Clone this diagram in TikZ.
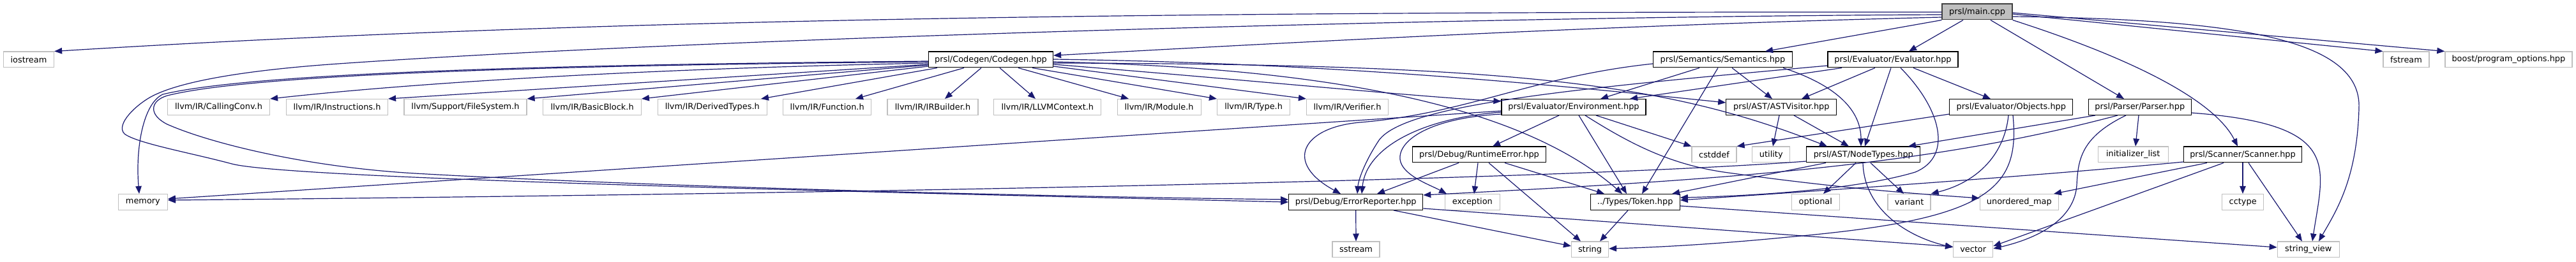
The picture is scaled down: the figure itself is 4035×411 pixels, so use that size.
\documentclass[tikz,border=0pt]{standalone}
\usepackage{fontspec}
\setmainfont{DejaVu Sans}
\usetikzlibrary{arrows.meta}
\definecolor{edgeblue}{HTML}{191970}
\definecolor{extgray}{HTML}{BFBFBF}
\definecolor{mainfill}{HTML}{BFBFBF}
\definecolor{mainline}{HTML}{404040}
\begin{document}
\begin{tikzpicture}[x=1pt,y=-1pt,
  basebox/.style={line width=1.2pt, fill=white, minimum height=24.8pt, inner sep=0pt,
                  font=\fontsize{12.9pt}{15pt}\selectfont, anchor=center},
  projbox/.style={basebox, draw=black},
  extbox/.style={basebox, draw=extgray},
  mainbox/.style={basebox, draw=mainline, fill=mainfill},
  e/.style={draw=edgeblue, line width=1.2pt, -{Triangle[length=12pt,width=9.5pt]}}
]
\fill[white] (0,0) rectangle (4035,411);
\useasboundingbox (0,0) rectangle (4035,411);

% ---------- row 0
\node[mainbox, minimum width=110pt] (main) at (3097,18.5) {prsl/main.cpp};
% ---------- row 1
\node[extbox, minimum width=79pt] (iostream) at (45,93.5) {iostream};
\node[projbox, minimum width=195pt] (codegen) at (1552,93.5) {prsl/Codegen/Codegen.hpp};
\node[projbox, minimum width=218pt] (semantics) at (2698.5,93.5) {prsl/Semantics/Semantics.hpp};
\node[projbox, minimum width=204pt] (evaluator) at (2965,93.5) {prsl/Evaluator/Evaluator.hpp};
\node[extbox, minimum width=72pt] (fstream) at (3769,93.5) {fstream};
\node[extbox, minimum width=199pt] (boost) at (3929.4,93.5) {boost/program\_options.hpp};
% ---------- row 2
\node[extbox, minimum width=160pt] (callconv) at (342.5,168) {llvm/IR/CallingConv.h};
\node[extbox, minimum width=159pt] (instr) at (528,168) {llvm/IR/Instructions.h};
\node[extbox, minimum width=192pt] (filesys) at (729,168) {llvm/Support/FileSystem.h};
\node[extbox, minimum width=153.5pt] (basicblock) at (927.6,168) {llvm/IR/BasicBlock.h};
\node[extbox, minimum width=171pt] (derived) at (1115.8,168) {llvm/IR/DerivedTypes.h};
\node[extbox, minimum width=138pt] (function) at (1295.7,168) {llvm/IR/Function.h};
\node[extbox, minimum width=142pt] (irbuilder) at (1461,168) {llvm/IR/IRBuilder.h};
\node[extbox, minimum width=168pt] (llvmctx) at (1640.8,168) {llvm/IR/LLVMContext.h};
\node[extbox, minimum width=131pt] (module) at (1815.6,168) {llvm/IR/Module.h};
\node[extbox, minimum width=114pt] (type) at (1963.6,168) {llvm/IR/Type.h};
\node[extbox, minimum width=128pt] (verifier) at (2110.5,168) {llvm/IR/Verifier.h};
\node[projbox, minimum width=226pt] (environment) at (2465,168) {prsl/Evaluator/Environment.hpp};
\node[projbox, minimum width=173pt] (astvisitor) at (2790.3,168) {prsl/AST/ASTVisitor.hpp};
\node[projbox, minimum width=193pt] (objects) at (3150.3,168) {prsl/Evaluator/Objects.hpp};
\node[projbox, minimum width=161pt] (parser) at (3351.8,168) {prsl/Parser/Parser.hpp};
% ---------- row 3
\node[projbox, minimum width=209pt] (runtime) at (2317,242.5) {prsl/Debug/RuntimeError.hpp};
\node[extbox, minimum width=70pt] (cstddef) at (2685,242.5) {cstddef};
\node[extbox, minimum width=59pt] (utility) at (2774.3,242.5) {utility};
\node[projbox, minimum width=178pt] (nodetypes) at (2918.8,242.5) {prsl/AST/NodeTypes.hpp};
\node[extbox, minimum width=110pt] (initlist) at (3341.2,242.5) {initializer\_list};
\node[projbox, minimum width=185pt] (scanner) at (3513,242.5) {prsl/Scanner/Scanner.hpp};
% ---------- row 4
\node[extbox, minimum width=77pt] (memory) at (223.9,317) {memory};
\node[projbox, minimum width=210pt] (errrep) at (2123.7,317) {prsl/Debug/ErrorReporter.hpp};
\node[extbox, minimum width=86pt] (exception) at (2306.3,317) {exception};
\node[projbox, minimum width=140pt] (token) at (2561.2,317) {../Types/Token.hpp};
\node[extbox, minimum width=75pt] (optional) at (2843.8,317) {optional};
\node[extbox, minimum width=67pt] (variant) at (2990.5,317) {variant};
\node[extbox, minimum width=123pt] (umap) at (3162.8,317) {unordered\_map};
\node[extbox, minimum width=65pt] (cctype) at (3513.2,317) {cctype};
% ---------- row 5
\node[extbox, minimum width=74pt] (sstream) at (2124,391.5) {sstream};
\node[extbox, minimum width=58pt] (string) at (2490.5,391.5) {string};
\node[extbox, minimum width=62pt] (vector) at (3090.7,391.5) {vector};
\node[extbox, minimum width=97pt] (strview) at (3615.7,391.5) {string\_view};

% ================= edges: main.cpp
\draw[e] (main.west |- 0,19) .. controls (1800,18) and (900,30) .. (iostream.north east);
\draw[e] (main.west |- 0,27) .. controls (2500,40) and (2000,68) .. (codegen.east |- 0,87);
\draw[e] (main.west |- 0,23) .. controls (2300,26) and (1100,60) .. (530,100)
   .. controls (400,109) and (290,125) .. (240,150)
   .. controls (215,162.5) and (180,195) .. (195,210)
   .. controls (215,225) and (300,240) .. (363,257)
   .. controls (450,280) and (1300,300) .. (errrep.west |- 0,317);
\draw[e] (main.south west) -- (semantics.north -| 2765,0);
\draw[e] (main.south -| 3075,0) -- (evaluator.north -| 2990,0);
\draw[e] (main.south -| 3118,0) -- (parser.north -| 3327,0);
\draw[e] (main.south east) .. controls (3350,95) and (3470,160) .. (scanner.north -| 3505,0);
\draw[e] (main.east |- 0,22) -- (fstream.north west);
\draw[e] (main.east |- 0,20) -- (boost.north west);
\draw[e] (main.east |- 0,26) .. controls (3500,30) and (3700,60) .. (3695,170)
   .. controls (3692,280) and (3660,330) .. (strview.north -| 3632,0);

% ================= Codegen.hpp
\draw[e] (codegen.west |- 0,96) .. controls (900,101) and (400,113) .. (255,148)
   .. controls (225,162) and (212,230) .. (memory.north -| 218,0);
\draw[e] (codegen.west |- 0,97) .. controls (900,102) and (400,115) .. (262,150)
   .. controls (235,158) and (232,180) .. (262,195)
   .. controls (330,225) and (480,262) .. (650,272)
   .. controls (1000,292) and (1600,308) .. (errrep.west |- 0,313);
\draw[e] (codegen.west |- 0,99) .. controls (1000,108) and (650,130) .. (callconv.north east);
\draw[e] (codegen.west |- 0,101) -- (instr.north east);
\draw[e] (codegen.west |- 0,102) -- (filesys.north east);
\draw[e] (codegen.west |- 0,104) -- (basicblock.north east);
\draw[e] (codegen.south -| 1468,0) -- (derived.north -| 1192,0);
\draw[e] (codegen.south -| 1510,0) -- (function.north -| 1340,0);
\draw[e] (codegen.south -| 1537,0) -- (irbuilder.north -| 1480,0);
\draw[e] (codegen.south -| 1566,0) -- (llvmctx.north -| 1622,0);
\draw[e] (codegen.south -| 1595,0) -- (module.north -| 1768,0);
\draw[e] (codegen.south -| 1617,0) -- (type.north west);
\draw[e] (codegen.east |- 0,104) -- (verifier.north west);
\draw[e] (codegen.east |- 0,101) .. controls (1950,125) and (2200,150) .. (environment.west |- 0,159);
\draw[e] (codegen.east |- 0,93) .. controls (2100,99) and (2450,135) .. (astvisitor.west |- 0,161);
\draw[e] (codegen.east |- 0,99) .. controls (2400,100) and (2620,135) .. (nodetypes.north -| 2862,0);
\draw[e] (codegen.east |- 0,97) .. controls (2000,105) and (2360,145) .. (token.north -| 2541,0);

% ================= Semantics.hpp
\draw[e] (semantics.west |- 0,100) .. controls (2400,120) and (2300,178) .. (2130,192)
   .. controls (2040,200) and (2010,255) .. (errrep.north -| 2100,0);
\draw[e] (semantics.south -| 2662,0) -- (environment.north -| 2507,0);
\draw[e] (semantics.south -| 2691,0) -- (token.north -| 2572,0);
\draw[e] (semantics.south -| 2713,0) -- (astvisitor.north -| 2776,0);
\draw[e] (semantics.south -| 2793,0) .. controls (2880,135) and (2915,175) .. (nodetypes.north -| 2915,0);

% ================= Evaluator.hpp
\draw[e] (evaluator.south -| 2885,0) -- (environment.north -| 2553,0);
\draw[e] (evaluator.west |- 0,103) .. controls (2450,140) and (2200,165) .. (2160,220)
   .. controls (2140,250) and (2128,280) .. (errrep.north -| 2126,0);
\draw[e] (evaluator.south -| 2937,0) -- (astvisitor.north -| 2822,0);
\draw[e] (evaluator.south -| 2962,0) -- (nodetypes.north -| 2921,0);
\draw[e] (evaluator.south -| 2977,0) .. controls (3040,170) and (3060,245) .. (3000,270)
   .. controls (2900,300) and (2720,308) .. (token.east |- 0,310);
\draw[e] (evaluator.south -| 2997,0) -- (objects.north -| 3118,0);

% ================= Environment.hpp
\draw[e] (environment.south -| 2442,0) -- (runtime.north -| 2338,0);
\draw[e] (environment.west |- 0,176) .. controls (2230,185) and (2140,230) .. (errrep.north -| 2133,0);
\draw[e] (environment.west |- 0,179) .. controls (2240,185) and (2190,220) .. (2193,250)
   .. controls (2196,275) and (2240,290) .. (exception.north -| 2266,0);
\draw[e] (environment.west |- 0,174) -- (memory.east |- 0,312);
\draw[e] (environment.south -| 2473,0) -- (token.north -| 2548,0);
\draw[e] (environment.south -| 2483,0) .. controls (2560,230) and (2620,258) .. (2700,270)
   .. controls (2900,298) and (3020,305) .. (umap.west |- 0,311);
\draw[e] (environment.south -| 2500,0) -- (cstddef.north west);

% ================= RuntimeError.hpp
\draw[e] (runtime.south -| 2285,0) -- (errrep.north -| 2157,0);
\draw[e] (runtime.south -| 2315,0) -- (exception.north -| 2309,0);
\draw[e] (runtime.south -| 2332,0) -- (string.north -| 2476,0);
\draw[e] (runtime.south -| 2357,0) -- (token.north -| 2513,0);

% ================= ErrorReporter.hpp
\draw[e] (errrep.south) -- (sstream.north);
\draw[e] (errrep.south -| 2183,0) -- (string.west |- 0,386);
\draw[e] (errrep.east |- 0,327) -- (vector.west |- 0,387);

% ================= Token.hpp
\draw[e] (token.south -| 2550,0) -- (string.north -| 2506,0);
\draw[e] (token.east |- 0,323) -- (strview.west |- 0,388);

% ================= NodeTypes.hpp
\draw[e] (nodetypes.west |- 0,253) .. controls (2400,285) and (1200,305) .. (memory.east |- 0,314);
\draw[e] (nodetypes.south -| 2860,0) -- (token.north -| 2619,0);
\draw[e] (nodetypes.south -| 2907,0) -- (optional.north -| 2856,0);
\draw[e] (nodetypes.south -| 2930,0) -- (variant.north -| 2982,0);
\draw[e] (nodetypes.south -| 2918,0) .. controls (2920,330) and (2990,372) .. (vector.west |- 0,388);

% ================= ASTVisitor.hpp
\draw[e] (astvisitor.south -| 2787,0) -- (utility.north -| 2777,0);
\draw[e] (astvisitor.south -| 2810,0) -- (nodetypes.north -| 2896,0);

% ================= Objects.hpp
\draw[e] (objects.west |- 0,179) -- (cstddef.north east);
\draw[e] (objects.south -| 3146,0) .. controls (3140,240) and (3100,285) .. (variant.north east);
\draw[e] (objects.south -| 3153,0) .. controls (3165,300) and (3110,345) .. (2800,372)
   .. controls (2700,382) and (2600,388) .. (string.east |- 0,390);

% ================= Parser.hpp
\draw[e] (parser.south -| 3282,0) -- (nodetypes.north -| 2989,0);
\draw[e] (parser.south -| 3317,0) .. controls (3017,261) and (2700,282) .. (errrep.east |- 0,306);
\draw[e] (parser.south -| 3350,0) -- (initlist.north -| 3345,0);
\draw[e] (parser.south -| 3330,0) .. controls (3260,215) and (3255,250) .. (3253,290)
   .. controls (3250,340) and (3200,372) .. (vector.east |- 0,390);
\draw[e] (parser.east |- 0,177) .. controls (3670,195) and (3640,260) .. (strview.north -| 3622,0);

% ================= Scanner.hpp
\draw[e] (scanner.west |- 0,254) .. controls (3200,275) and (2900,296) .. (token.east |- 0,314);
\draw[e] (scanner.south -| 3457,0) -- (umap.north -| 3217,0);
\draw[e] (scanner.south -| 3483,0) -- (vector.east |- 0,386);
\draw[e] (scanner.south -| 3513,0) -- (cctype.north -| 3513,0);
\draw[e] (scanner.south -| 3522,0) -- (strview.north -| 3606,0);
\end{tikzpicture}
\end{document}
